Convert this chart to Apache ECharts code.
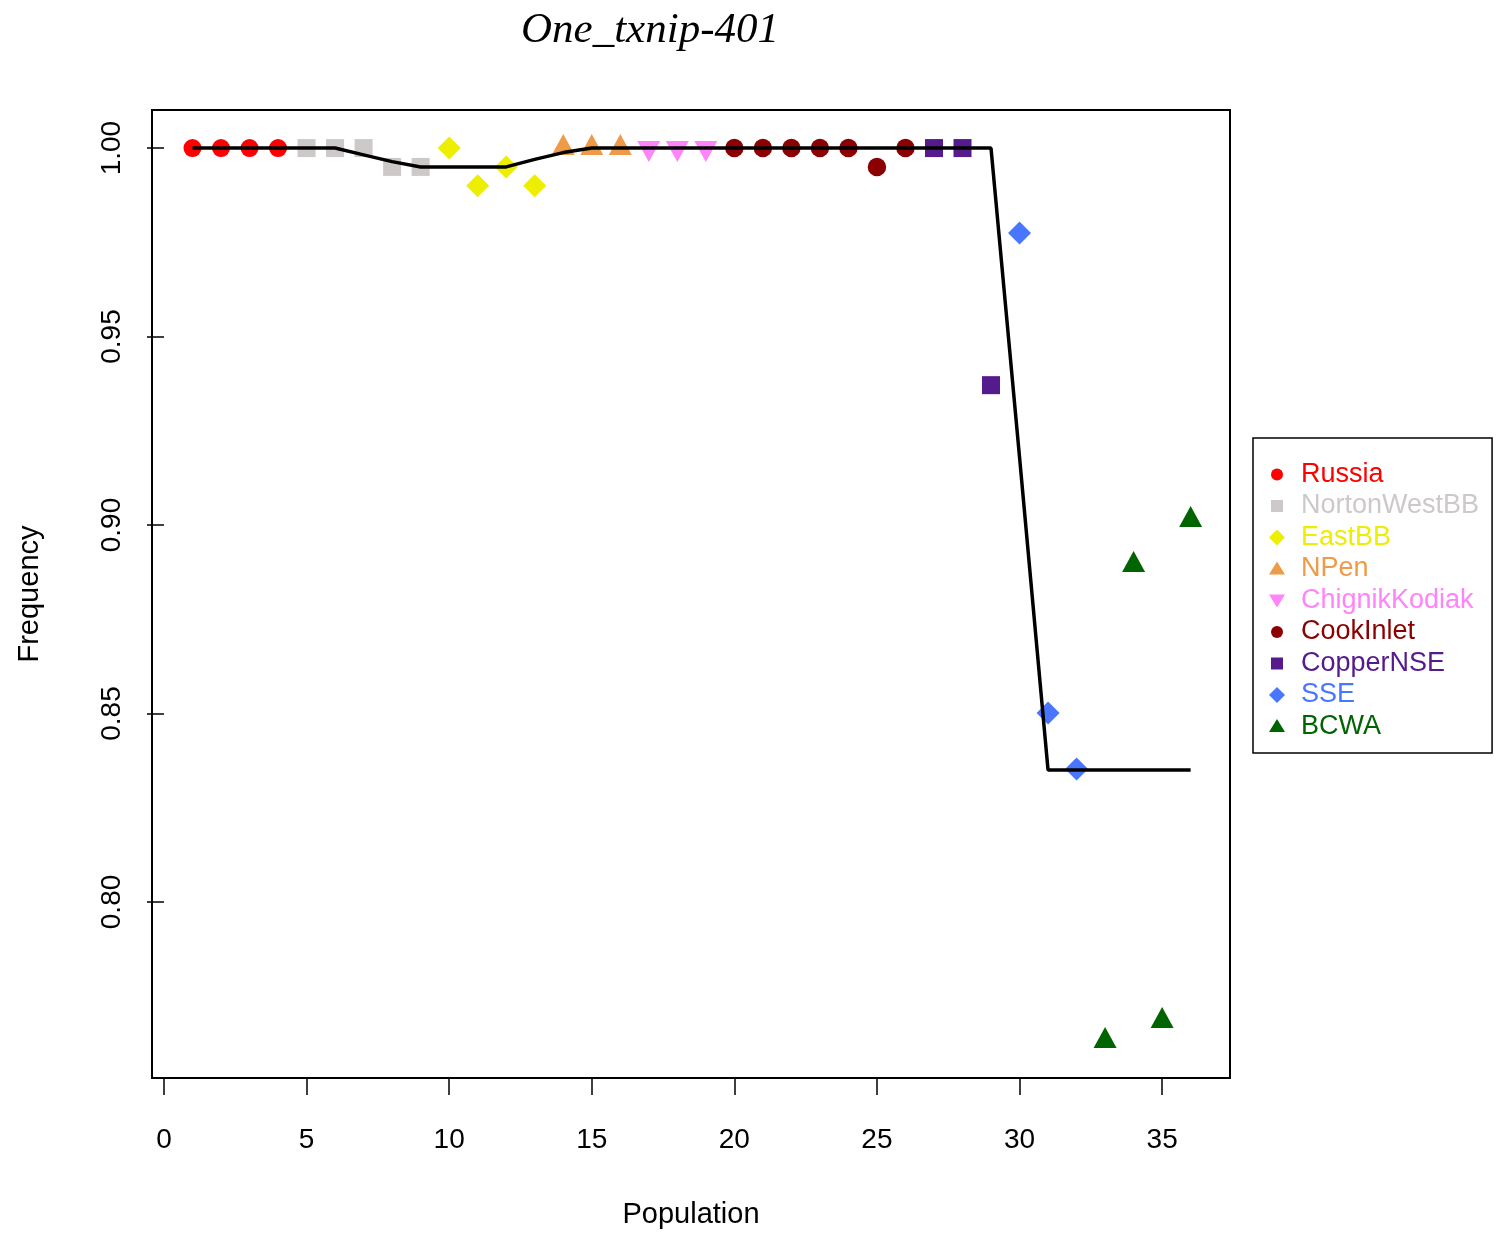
<!DOCTYPE html>
<html>
<head>
<meta charset="utf-8">
<script src="https://cdn.jsdelivr.net/npm/echarts@6/dist/echarts.min.js"></script>
<style>
html,body{margin:0;padding:0;background:#fff;}
#chart{width:1500px;height:1241px;}
</style>
</head>
<body>
<div id="chart"></div>
<script>
// ---- data ----
const groupNames = ['Russia','NortonWestBB','EastBB','NPen','ChignikKodiak','CookInlet','CopperNSE','SSE','BCWA'];
const groupColors = ['#FF0000','#CDC9C9','#EEEE00','#EE9A49','#FF83FA','#8B0000','#551A8B','#4876FF','#006400'];
const groupFirstPop = [1,5,10,14,17,20,27,30,33];
const groupLastPop  = [4,9,13,16,19,26,29,32,36];
// observed frequency for populations 1..36
const frequency = [
  1.000,1.000,1.000,1.000,
  1.000,1.000,1.000,0.995,0.995,
  1.000,0.990,0.995,0.990,
  1.000,1.000,1.000,
  1.000,1.000,1.000,
  1.000,1.000,1.000,1.000,1.000,0.995,1.000,
  1.000,1.000,0.9371,
  0.9775,0.8501,0.8353,
  0.7631,0.8894,0.7684,0.9013
];
// fitted line for populations 1..36
const fittedLine = [
  1.000,1.000,1.000,1.000,1.000,1.000,0.9982,0.9964,0.995,0.995,
  0.995,0.995,0.997,0.9988,1.000,1.000,1.000,1.000,1.000,1.000,
  1.000,1.000,1.000,1.000,1.000,1.000,1.000,1.000,1.000,0.918,
  0.835,0.835,0.835,0.835,0.835,0.835
];
const xTicks = [0,5,10,15,20,25,30,35];
const yTicks = [0.80,0.85,0.90,0.95,1.00];

// ---- styles ----
const scatterSymbols = ['circle','rect','diamond','triangle','path://M0,0L2,0L1,1.732Z','circle','rect','diamond','triangle'];
const scatterSizes = [18,18,23,[23,21],[23,21],18.5,18,23,[23,21]];
const scatterOffsets = [[0,0],[0,0],[0,0],[0,-3.5],[0,3.5],[0,0],[0,0],[0,0],[0,-3.5]];
const legendIcons = [
  'path://M0,0M16,16M14,8A6,6,0,1,1,2,8A6,6,0,1,1,14,8Z',
  'path://M0,0M16,16M2,2L14,2L14,14L2,14Z',
  'path://M8,0L16,8L8,16L0,8Z',
  'path://M0,0M16,16M8,0.5L16,13.5L0,13.5Z',
  'path://M0,0M16,16M0,2L16,2L8,15Z',
  'path://M0,0M16,16M14,8A6,6,0,1,1,2,8A6,6,0,1,1,14,8Z',
  'path://M0,0M16,16M2,2L14,2L14,14L2,14Z',
  'path://M8,0L16,8L8,16L0,8Z',
  'path://M0,0M16,16M8,0.5L16,13.5L0,13.5Z'
];

const FONT = '"Liberation Sans", Arial, Helvetica, sans-serif';

const series = groupNames.map((name, g) => {
  const data = [];
  for (let p = groupFirstPop[g]; p <= groupLastPop[g]; p++) data.push([p, frequency[p - 1]]);
  return {
    name: name,
    type: 'scatter',
    data: data,
    symbol: scatterSymbols[g],
    symbolSize: scatterSizes[g],
    symbolOffset: scatterOffsets[g],
    itemStyle: { color: groupColors[g], opacity: 1 },
    z: 2,
    silent: true
  };
});
series.push({
  name: 'fit',
  type: 'line',
  data: fittedLine.map((v, i) => [i + 1, v]),
  showSymbol: false,
  symbol: 'none',
  lineStyle: { color: '#000', width: 3.5 },
  z: 5,
  silent: true
});

const chart = echarts.init(document.getElementById('chart'), null, { renderer: 'canvas' });
chart.setOption({
  animation: false,
  backgroundColor: '#fff',
  title: {
    text: 'One_txnip-401',
    left: 645,
    top: 4,
    textAlign: 'center',
    textStyle: { fontFamily: '"Liberation Serif", "Times New Roman", serif', fontStyle: 'italic', fontWeight: 'normal', fontSize: 43, color: '#000' }
  },
  grid: {
    left: 152, right: 270, top: 110, bottom: 163,
    show: true, borderColor: '#000', borderWidth: 2, backgroundColor: 'transparent',
    containLabel: false
  },
  xAxis: {
    type: 'value',
    min: -0.42, max: 37.38,
    splitLine: { show: false },
    axisLine: { show: false },
    axisTick: { show: true, length: 17, inside: false, lineStyle: { color: '#000', width: 1.5 }, customValues: xTicks },
    axisLabel: { customValues: xTicks, margin: 62, verticalAlign: 'middle', fontFamily: FONT, fontSize: 28, color: '#000' },
    name: 'Population',
    nameLocation: 'middle',
    nameGap: 137,
    nameTextStyle: { fontFamily: FONT, fontSize: 29, color: '#000', verticalAlign: 'middle' }
  },
  yAxis: {
    type: 'value',
    min: 0.7533, max: 1.0101,
    splitLine: { show: false },
    axisLine: { show: false },
    axisTick: { show: true, length: 17, inside: false, lineStyle: { color: '#000', width: 1.5 }, customValues: yTicks },
    axisLabel: {
      customValues: yTicks, rotate: 90, margin: 40, align: 'center', verticalAlign: 'middle',
      fontFamily: FONT, fontSize: 28, color: '#000',
      formatter: v => v.toFixed(2)
    },
    name: 'Frequency',
    nameLocation: 'middle',
    nameGap: 122,
    nameRotate: 90,
    nameTextStyle: { fontFamily: FONT, fontSize: 29, color: '#000', verticalAlign: 'middle', align: 'center' }
  },
  legend: {
    orient: 'vertical',
    left: 1253, top: 438,
    padding: [23, 13, 13, 16],
    itemWidth: 16, itemHeight: 16,
    itemGap: 4.5,
    borderColor: '#000', borderWidth: 1.5,
    backgroundColor: '#fff',
    selectedMode: false,
    textStyle: { fontFamily: FONT, fontSize: 27, lineHeight: 26, padding: [0, 0, 0, 11] },
    data: groupNames.map((n, g) => ({ name: n, icon: legendIcons[g], textStyle: { color: groupColors[g] } }))
  },
  series: series
});
</script>
</body>
</html>
